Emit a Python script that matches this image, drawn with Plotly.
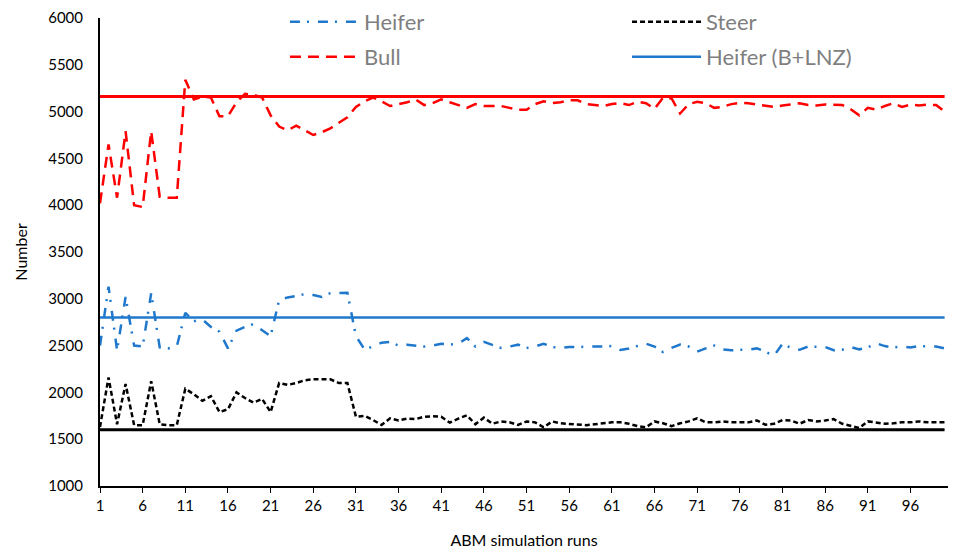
import plotly.graph_objects as go

runs = list(range(1, 101))

heifer = [2500, 3130, 2450, 3020, 2500, 2490, 3060, 2480, 2470, 2490,
          2850, 2760, 2780, 2700, 2650, 2470, 2660, 2700, 2730, 2660,
          2600, 2990, 3015, 3030, 3050, 3040, 3020, 3060, 3060, 3065,
          2600, 2460, 2490, 2531, 2540, 2500, 2510, 2500, 2490, 2500,
          2520, 2510, 2520, 2580, 2490, 2540, 2510, 2475, 2490, 2510,
          2475, 2490, 2520, 2485, 2475, 2485, 2485, 2490, 2490, 2490,
          2496, 2453, 2470, 2496, 2520, 2490, 2430, 2475, 2510, 2490,
          2435, 2470, 2500, 2460, 2450, 2455, 2455, 2470, 2435, 2390,
          2520, 2475, 2455, 2490, 2490, 2485, 2450, 2455, 2485, 2460,
          2480, 2525, 2495, 2480, 2490, 2480, 2495, 2495, 2490, 2470]

steer = [1630, 2160, 1660, 2090, 1650, 1650, 2120, 1660, 1650, 1650,
         2040, 1980, 1910, 1960, 1790, 1820, 2000, 1940, 1890, 1930,
         1790, 2100, 2080, 2100, 2130, 2140, 2140, 2140, 2100, 2100,
         1740, 1750, 1705, 1652, 1723, 1700, 1720, 1715, 1740, 1745,
         1740, 1677, 1720, 1755, 1660, 1730, 1665, 1690, 1680, 1652,
         1690, 1680, 1627, 1690, 1670, 1665, 1652, 1650, 1660, 1670,
         1680, 1680, 1665, 1641, 1627, 1690, 1670, 1640, 1670, 1690,
         1723, 1680, 1680, 1690, 1680, 1680, 1680, 1700, 1655, 1665,
         1705, 1700, 1665, 1705, 1690, 1700, 1715, 1665, 1640, 1620,
         1690, 1680, 1665, 1670, 1680, 1680, 1690, 1680, 1680, 1680]

bull = [4020, 4650, 4080, 4790, 4000, 3980, 4790, 4090, 4080, 4080,
        5340, 5130, 5160, 5150, 4950, 4950, 5100, 5190, 5180, 5150,
        4960, 4840, 4800, 4850, 4800, 4750, 4780, 4820, 4880, 4940,
        5050, 5110, 5150, 5110, 5060, 5080, 5100, 5130, 5070, 5090,
        5130, 5100, 5070, 5040, 5080, 5060, 5060, 5060, 5040, 5020,
        5020, 5080, 5110, 5090, 5100, 5120, 5120, 5080, 5070, 5060,
        5080, 5090, 5070, 5105, 5090, 5030, 5150, 5140, 4980, 5080,
        5105, 5090, 5040, 5050, 5080, 5095, 5090, 5075, 5065, 5050,
        5065, 5075, 5090, 5070, 5065, 5075, 5075, 5070, 5025, 4960,
        5040, 5020, 5060, 5090, 5050, 5075, 5065, 5075, 5070, 5000]

heifer_ref = 2800
steer_ref = 1600
bull_ref = 5160

x_ticks = list(range(1, 100, 5))
y_ticks = list(range(1000, 6001, 500))

BLUE = "#1F78CC"
RED = "#FF0000"
BLACK = "#000000"
FONT = "Lato"

fig = go.Figure()
fig.add_trace(go.Scatter(x=runs, y=heifer, mode="lines", name="Heifer",
                         line=dict(color=BLUE, width=2.5, dash="10px,7px,2px,9px"),
                         legend="legend"))
fig.add_trace(go.Scatter(x=runs, y=steer, mode="lines", name="Steer",
                         line=dict(color=BLACK, width=2.5, dash="5px,3px"),
                         legend="legend2"))
fig.add_trace(go.Scatter(x=runs, y=bull, mode="lines", name="Bull",
                         line=dict(color=RED, width=2.5, dash="11px,7px"),
                         legend="legend3"))
fig.add_trace(go.Scatter(x=runs, y=[heifer_ref] * len(runs), mode="lines",
                         name="Heifer (B+LNZ)",
                         line=dict(color=BLUE, width=2.5), legend="legend4"))
fig.add_trace(go.Scatter(x=runs, y=[steer_ref] * len(runs), mode="lines",
                         name="Steer (B+LNZ)", showlegend=False,
                         line=dict(color=BLACK, width=3)))
fig.add_trace(go.Scatter(x=runs, y=[bull_ref] * len(runs), mode="lines",
                         name="Bull (B+LNZ)", showlegend=False,
                         line=dict(color=RED, width=3)))

def leg(x, y):
    return dict(x=x, y=y, xanchor="left", yanchor="middle",
                bgcolor="rgba(0,0,0,0)", itemwidth=69,
                font=dict(family=FONT, size=22, color="#7F7F7F"))

fig.update_layout(
    width=953, height=554,
    margin=dict(l=100, r=5, t=18, b=68, autoexpand=False),
    paper_bgcolor="white", plot_bgcolor="white",
    font=dict(family=FONT, color="black"),
    legend=leg(0.2181, 0.9915),
    legend2=leg(0.6215, 0.9915),
    legend3=leg(0.2181, 0.9167),
    legend4=leg(0.6215, 0.9167),
    xaxis=dict(range=[1, 100.4], tickvals=x_ticks, ticktext=[str(v) for v in x_ticks],
               showgrid=False, zeroline=False, showline=True, linecolor="black",
               linewidth=2, ticks="outside", ticklen=5, tickcolor="black",
               automargin=False, ticklabelstandoff=0,
               tickfont=dict(size=15, color="black"),
               title=dict(text="ABM simulation runs", font=dict(size=16, color="black"),
                          standoff=22)),
    yaxis=dict(range=[1000, 6000], tickvals=y_ticks, showgrid=False, zeroline=False,
               showline=True, linecolor="black", linewidth=2, ticks="",
               automargin=False, ticklabelstandoff=12,
               tickfont=dict(size=15, color="black"),
               title=dict(text="Number", font=dict(size=16, color="black"), standoff=17)),
)

fig.write_html("out.html", config={"displayModeBar": False},
               post_script="document.body.style.margin='0';document.body.style.padding='0';")
